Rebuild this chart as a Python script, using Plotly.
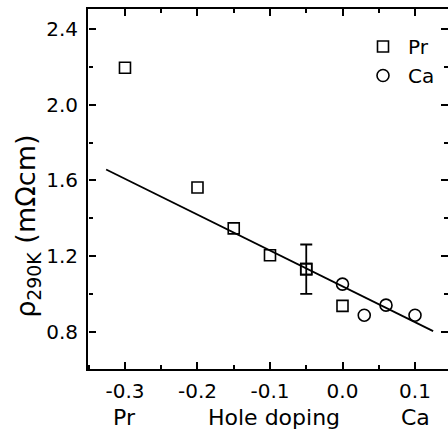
import plotly.graph_objects as go

pr_x = [-0.3, -0.2, -0.15, -0.1, -0.05, 0.0]
pr_y = [2.195, 1.563, 1.347, 1.205, 1.132, 0.938]
err_x = [-0.05]
err_y = [1.132]
err_val = [0.13]
ca_x = [0.0, 0.03, 0.06, 0.1]
ca_y = [1.053, 0.889, 0.942, 0.889]
fit_x = [-0.326, 0.125]
fit_y = [1.658, 0.805]
x_ticks = [-0.3, -0.2, -0.1, 0.0, 0.1]
x_ticktext = ["-0.3", "-0.2", "-0.1", "0.0", "0.1"]
y_ticks = [0.8, 1.2, 1.6, 2.0, 2.4]
y_ticktext = ["0.8", "1.2", "1.6", "2.0", "2.4"]
bottom_labels = ["Pr", "Hole doping", "Ca"]
bottom_label_x = [-0.3, -0.095, 0.1]

FONT = "DejaVu Sans, Liberation Sans, sans-serif"
X_RANGE = [-0.351, 0.1455]
Y_RANGE = [0.605, 2.505]

fig = go.Figure()
fig.add_trace(go.Scatter(x=fit_x, y=fit_y, mode="lines",
                         line=dict(color="black", width=1.8), showlegend=False))
sq = dict(symbol="square-open", size=11, color="black", line=dict(width=1.6))
fig.add_trace(go.Scatter(x=err_x, y=err_y, mode="markers", marker=sq, showlegend=False,
                         error_y=dict(type="data", array=err_val, visible=True,
                                      color="black", thickness=1.8, width=6)))
fig.add_trace(go.Scatter(x=pr_x, y=pr_y, mode="markers", name="Pr", marker=sq))
fig.add_trace(go.Scatter(x=ca_x, y=ca_y, mode="markers", name="Ca",
                         marker=dict(symbol="circle-open", size=12, color="black",
                                     line=dict(width=1.6))))
# invisible helper traces so the tick-only axes exist
for xa, ya in [("x2", "y2"), ("x3", "y3")]:
    fig.add_trace(go.Scatter(x=fit_x, y=fit_y, xaxis=xa, yaxis=ya, mode="lines",
                             line=dict(width=0), opacity=0, showlegend=False,
                             hoverinfo="skip"))

tickfont = dict(family=FONT, size=20, color="black")
tick_style = dict(ticks="inside", tickcolor="black", tickwidth=2, ticklen=7,
                  showgrid=False, zeroline=False, showticklabels=False,
                  showline=False)
x_minor = dict(dtick=0.05, tick0=0, ticklen=4, tickcolor="black", tickwidth=1.5)
y_minor = dict(dtick=0.2, tick0=0, ticklen=4, tickcolor="black", tickwidth=1.5)

fig.update_layout(
    width=448, height=430,
    margin=dict(l=88, r=0, t=9, b=61),
    paper_bgcolor="white", plot_bgcolor="white",
    font=dict(family=FONT, size=20, color="black"),
    xaxis=dict(range=X_RANGE, tickvals=x_ticks, ticktext=x_ticktext, ticks="",
               showline=True, linecolor="black", linewidth=2, mirror=True,
               showgrid=False, zeroline=False, tickfont=tickfont,
               ticklabelstandoff=3),
    yaxis=dict(range=Y_RANGE, tickvals=y_ticks, ticktext=y_ticktext, ticks="",
               showline=True, linecolor="black", linewidth=2, mirror=False,
               showgrid=False, zeroline=False, tickfont=tickfont,
               ticklabelstandoff=4),
    # top and right tick rows
    xaxis2=dict(range=X_RANGE, overlaying="x", side="top", anchor="y2",
                tickvals=x_ticks, minor=dict(ticks="inside", **x_minor),
                **tick_style),
    yaxis2=dict(range=Y_RANGE, overlaying="y", side="right", anchor="x2",
                tickvals=y_ticks, minor=dict(ticks="inside", **y_minor),
                **tick_style),
    # bottom and left tick rows (free axes pointing into the plot)
    xaxis3=dict(range=X_RANGE, overlaying="x", side="top", anchor="free", position=0,
                tickvals=x_ticks, minor=dict(ticks="outside", **x_minor),
                **{**tick_style, "ticks": "outside"}),
    yaxis3=dict(range=Y_RANGE, overlaying="y", side="right", anchor="free", position=0,
                tickvals=y_ticks, minor=dict(ticks="outside", **y_minor),
                **{**tick_style, "ticks": "outside"}),
    legend=dict(x=0.75, y=0.95, xanchor="left", yanchor="top",
                bgcolor="rgba(0,0,0,0)", font=dict(family=FONT, size=20),
                itemwidth=40, tracegroupgap=0),
    showlegend=True,
)

fig.add_annotation(x=-0.167, y=1.36, xref="paper", yref="y",
                   text="ρ<sub>290K</sub> (mΩcm)", textangle=-90, showarrow=False,
                   font=dict(family=FONT, size=27), xanchor="center", yanchor="middle")

for txt, xv in zip(bottom_labels, bottom_label_x):
    fig.add_annotation(x=xv, y=-0.135, xref="x", yref="paper", text=txt,
                       showarrow=False, font=dict(family=FONT, size=22),
                       yanchor="middle", xanchor="center")

fig.write_html("out.html")
